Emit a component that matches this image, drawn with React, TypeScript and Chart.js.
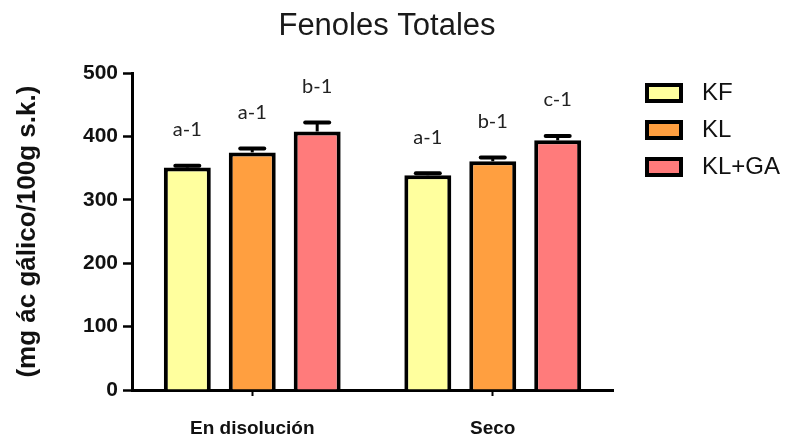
import React, { useEffect, useRef } from "react";
import { Chart, registerables } from "chart.js";

Chart.register(...registerables);

const categories = ["En disolución", "Seco"];
const seriesNames = ["KF", "KL", "KL+GA"];
const kfValues = [351, 339];
const klValues = [375, 361];
const klgaValues = [408, 394];
const kfErrors = [3, 3];
const klErrors = [6, 6];
const klgaErrors = [14, 7];
const kfLetters = ["a-1", "a-1"];
const klLetters = ["a-1", "b-1"];
const klgaLetters = ["b-1", "c-1"];
const yTickValues = [0, 100, 200, 300, 400, 500];
const seriesColors = ["#FFFF9E", "#FF9F40", "#FF7B7B"];

const seriesValues = [kfValues, klValues, klgaValues];
const seriesErrors = [kfErrors, klErrors, klgaErrors];
const seriesLetters = [kfLetters, klLetters, klgaLetters];

const errorBarPlugin = {
  id: "errorBars",
  afterDatasetsDraw(chart: any) {
    const ctx = chart.ctx;
    const yScale = chart.scales.y;
    ctx.save();
    chart.data.datasets.forEach((ds: any, i: number) => {
      const meta = chart.getDatasetMeta(i);
      meta.data.forEach((el: any, j: number) => {
        const v = ds.data[j];
        const e = ds.errors[j];
        const x = el.x;
        const yTop = yScale.getPixelForValue(v);
        const yErr = yScale.getPixelForValue(v + e);
        ctx.strokeStyle = "#000";
        ctx.lineWidth = 3;
        ctx.beginPath();
        ctx.moveTo(x, yTop);
        ctx.lineTo(x, yErr);
        ctx.stroke();
        ctx.lineWidth = 4;
        ctx.lineCap = "round";
        ctx.beginPath();
        ctx.moveTo(x - 12, yErr);
        ctx.lineTo(x + 12, yErr);
        ctx.stroke();
        ctx.lineCap = "butt";
        ctx.fillStyle = "#222";
        ctx.font = "20px Lato";
        ctx.textAlign = "center";
        ctx.textBaseline = "middle";
        ctx.fillText(ds.letters[j], x, yErr - 36);
      });
    });
    ctx.restore();
  },
};

const legendPlugin = {
  id: "customLegend",
  afterDraw(chart: any) {
    const ctx = chart.ctx;
    const left = chart.chartArea.right + 32;
    const firstCenter = 85;
    const rowGap = 37;
    ctx.save();
    chart.data.datasets.forEach((ds: any, i: number) => {
      const cy = firstCenter + i * rowGap;
      ctx.fillStyle = ds.backgroundColor;
      ctx.fillRect(left, cy - 10, 38, 20);
      ctx.strokeStyle = "#000";
      ctx.lineWidth = 4;
      ctx.strokeRect(left + 2, cy - 8, 34, 16);
      ctx.fillStyle = "#111";
      ctx.font = "24px 'Liberation Sans'";
      ctx.textAlign = "left";
      ctx.textBaseline = "middle";
      ctx.fillText(ds.label, left + 57, cy);
    });
    ctx.restore();
  },
};

export default function App() {
  const canvasRef = useRef<HTMLCanvasElement | null>(null);

  useEffect(() => {
    if (!canvasRef.current) return;
    const chart = new Chart(canvasRef.current, {
      type: "bar",
      data: {
        labels: categories,
        datasets: seriesNames.map((name, i) => ({
          label: name,
          data: seriesValues[i],
          errors: seriesErrors[i],
          letters: seriesLetters[i],
          backgroundColor: seriesColors[i],
          borderColor: "#000",
          borderWidth: 4,
          categoryPercentage: 0.81,
          barPercentage: 0.723,
        })) as any,
      },
      options: {
        responsive: false,
        animation: false,
        layout: { padding: { left: 0, right: 22, top: 0, bottom: 0 } },
        plugins: {
          legend: { display: false },
          tooltip: { enabled: false },
          title: {
            display: true,
            text: "Fenoles Totales",
            color: "#1a1a1a",
            font: { family: "'Liberation Sans'", size: 31, weight: "normal" },
            padding: { top: 0, bottom: 28 },
          },
        },
        scales: {
          x: {
            offset: true,
            z: 1,
            border: { display: true, color: "#000", width: 3 },
            grid: {
              display: true,
              offset: false,
              drawOnChartArea: false,
              tickLength: 6,
              tickColor: "#000",
              tickWidth: 2,
              color: "#000",
            },
            ticks: {
              color: "#111",
              font: { family: "'Liberation Sans'", size: 19, weight: "bold" },
              padding: 21,
            },
            afterFit: (s: any) => {
              s.height = 44;
            },
          },
          y: {
            min: 0,
            max: 500,
            border: { display: true, color: "#000", width: 3 },
            grid: {
              display: true,
              drawOnChartArea: false,
              tickLength: 9,
              tickColor: "#000",
              tickWidth: 2.5,
              color: "#000",
            },
            afterBuildTicks: (s: any) => {
              s.ticks = yTickValues.map((v) => ({ value: v }));
            },
            ticks: {
              color: "#111",
              font: { family: "'Liberation Sans'", size: 21, weight: "bold" },
              padding: 5,
            },
            title: {
              display: true,
              text: "(mg ác gálico/100g s.k.)",
              color: "#111",
              font: { family: "'Liberation Sans'", size: 26, weight: "bold" },
              padding: { top: 4, bottom: 4 },
            },
            afterFit: (s: any) => {
              s.width = 124;
            },
          },
          spacer: {
            type: "linear",
            position: "right",
            display: true,
            grid: { display: false },
            border: { display: false },
            ticks: { display: false },
            afterFit: (s: any) => {
              s.width = 153;
            },
          },
        },
      } as any,
      plugins: [errorBarPlugin, legendPlugin],
    });
    return () => chart.destroy();
  }, []);

  return (
    <canvas
      ref={canvasRef}
      width={780}
      height={426}
      style={{ display: "block", width: "780px", height: "426px" }}
    />
  );
}
